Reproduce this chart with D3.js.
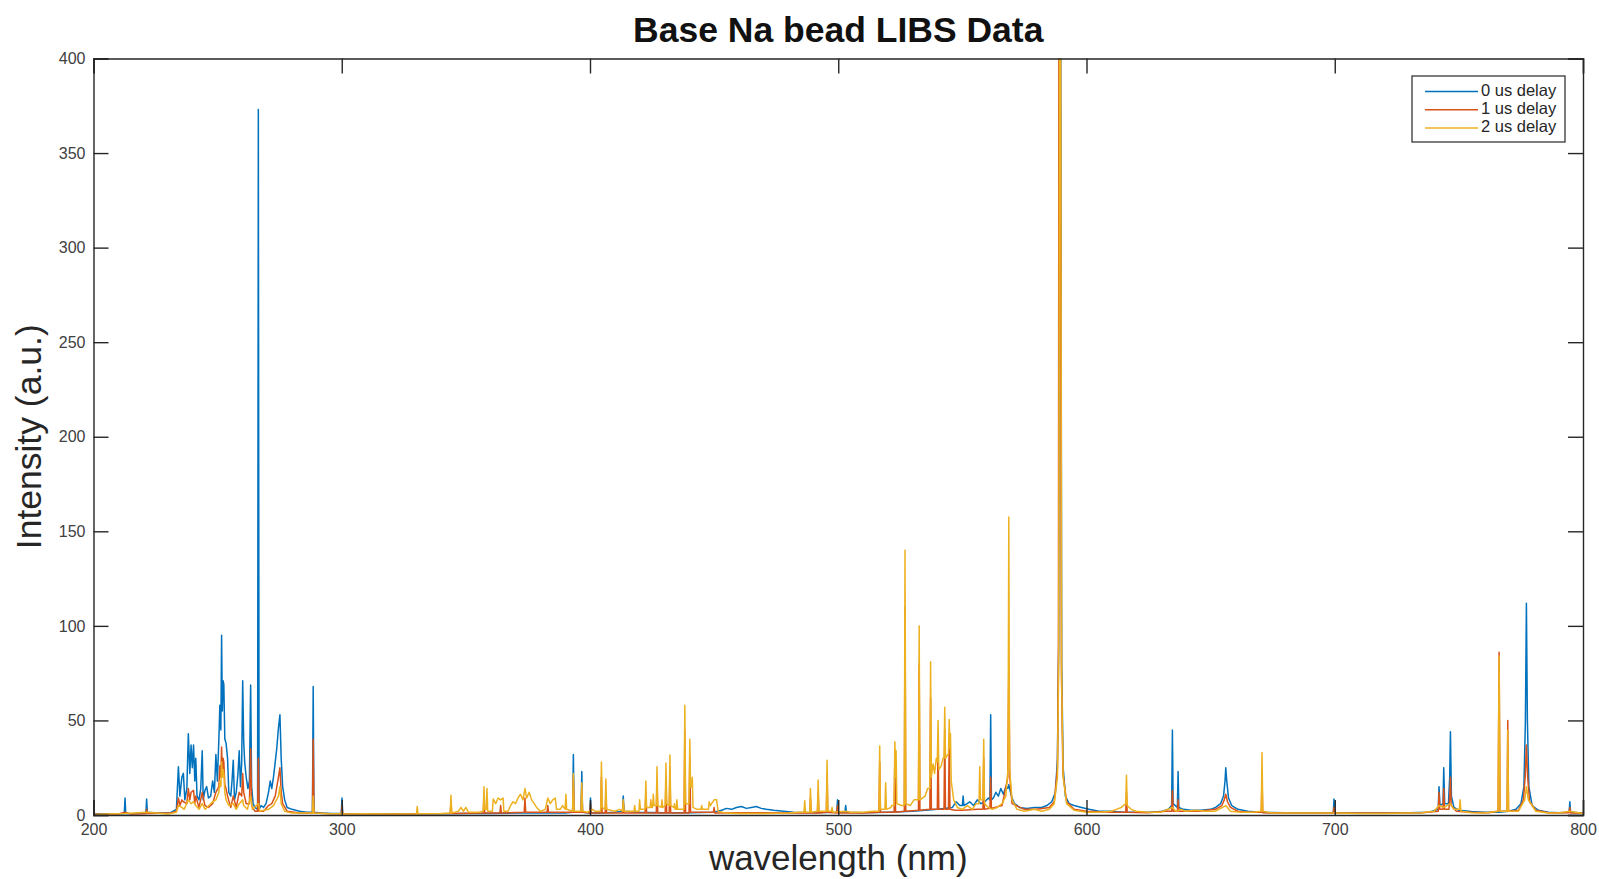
<!DOCTYPE html>
<html>
<head>
<meta charset="utf-8">
<script src="https://cdn.jsdelivr.net/npm/d3@7"></script>
<style>
  body { margin: 0; background: #fff; }
  text { font-family: "Liberation Sans", Arial, Helvetica, sans-serif; }
</style>
</head>
<body>
<div id="chart"></div>
<script>
// series labels and colours (matlab defaults)
var seriesNames = ["0 us delay", "1 us delay", "2 us delay"];
var seriesColors = ["#0072BD", "#D95319", "#EDB120"];

var xTicks = [200, 300, 400, 500, 600, 700, 800];
var yTicks = [0, 50, 100, 150, 200, 250, 300, 350, 400];

// [wavelength nm, intensity]
var delay0 = [[200,0.6],[205,0.5],[212.4,0.6],[212.7,9],[213.0,0.7],[218,0.8],[221.1,1],[221.4,8.5],[221.7,1.5],[226,1],[231,1.2],
  [233.4,3],[234.2,25.5],[234.8,10],[235.6,20],[236.2,22],[236.8,8],[237.6,14],[238.2,43],[238.8,22],[239.3,37],[239.8,25],
  [240.3,37],[240.8,18],[241.2,30],[241.7,10],[242.5,8],[243.2,14],[243.8,34],[244.2,8],[244.9,13],[245.6,15],[246.3,9],
  [247.2,10],[248.0,18],[248.7,12],[249.3,32],[249.9,18],[250.5,40],[250.9,58],[251.3,45],[251.6,95],[251.9,55],[252.2,71],
  [252.5,69],[252.9,40],[253.4,38],[254.0,30],[254.5,12],[255.3,10],[255.8,18],[256.3,29],[256.8,8],[257.5,12],[258.2,22],
  [258.7,34],[259.2,15],[259.7,28],[260.1,71],[260.5,39],[260.9,28],[261.5,20],[262.2,14],[262.8,18],[263.3,68.7],[263.7,15],
  [264.3,6],[265.0,4],[266.1,3],[266.4,373],[266.7,3],[267.5,5],[268.5,4],[269.5,6],[270.5,12],[271.2,18],[271.8,14],
  [272.5,20],[273.2,28],[273.8,35],[274.5,46],[275.1,53],[275.6,30],[276.2,15],[277.0,8],[278.0,4],[280,3],[283,2],[286,1.5],
  [288.2,1.5],[288.5,68],[288.8,1.5],[292,1],[296,0.8],[299.8,0.8],[300.1,9],[300.4,0.8],[310,0.6],[320,0.6],[330,0.6],
  [340,0.6],[350,0.8],[360,0.8],[370,1],[380,1],[390,1],[393.0,1.5],[393.3,32],[393.6,1.5],[396.4,1.5],[396.7,23],[397.0,1.5],
  [399.9,1],[400.2,9],[400.5,1],[405,1],[410,1.5],[413.1,2],[413.4,10],[413.7,2],[420,1.5],[430,1.2],[440,1.2],[450,1.5],
  [453,2.5],[455,3.5],[457,3],[459,4],[461,4.5],[463,3.5],[465,4],[467,4.5],[469,3.5],[471,3],[474,2.5],[478,2],[482,1.5],
  [490,1.2],[499.4,1.5],[499.7,8],[500.0,1.5],[502.7,1.5],[503,5],[503.3,1.5],[510,1.2],[520,1.5],[530,2],[540,3],[546,4],
  [547.5,7],[549,5],[550,5],[550.3,10],[550.6,5],[553,7],[554.5,5],[556,8],[557.5,6],[559,7],[560.5,9],[561.1,8],[561.4,53],
  [561.7,8],[562.5,9],[563.5,12],[564.5,10],[565.5,14],[566.5,11],[567.5,15],[568.3,14],[568.7,16],[569.2,13],[570,9],[571,6],
  [573,4],[576,3.5],[579,4],[582,4],[584,5],[586,7],[587.5,12],[588.3,30],[588.8,90],[589.1,430],[589.6,430],[590.0,80],
  [590.6,25],[591.5,10],[593,6],[595,5],[598,4],[601,3],[605,2],[610,2],[615,1.5],[620,1.5],[625,1.5],[630,1.8],[633,3],
  [634.3,5],[634.6,45],[634.9,6],[636.6,4],[636.9,23],[637.2,4],[639,3],[642,2.5],[646,2.5],[650,3],[652,4],[654,6],
  [655.2,10],[655.8,18],[656.1,25],[656.5,18],[657.2,9],[658.5,5],[661,3],[665,2],[670,1.5],[680,1.2],[690,1.2],[699.4,1.2],
  [699.7,8.5],[700.0,1.2],[710,1],[720,1],[730,1.2],[738,1.5],[741.7,3],[742.0,15],[742.4,5],[743.6,6],[743.9,25],[744.3,6],
  [745.8,6],[746.3,20],[746.6,44],[747.0,10],[748,4],[750,2.5],[755,1.8],[760,1.5],[766,1.5],[770,2],[773,3],[775,6],
  [776.2,15],[776.8,50],[777.2,112],[777.6,50],[778.2,15],[779.5,5],[782,2.5],[786,1.5],[790,1.2],[794.4,1.5],[794.7,7],
  [795.0,1.5],[800,1]];

var delay1 = [[200,0.4],[210,0.5],[212.7,1.5],[215,0.5],[221.1,0.6],[221.4,3],[221.7,0.8],[231,1],[233.4,2],[234.2,9],
  [234.8,5],[235.6,8],[236.2,7],[237.6,6],[238.2,14],[238.8,8],[239.3,12],[240.3,13],[240.8,6],[241.2,10],[242.5,4],[243.8,12],
  [244.9,5],[246.3,4],[248.0,6],[249.3,12],[250.5,15],[250.9,26],[251.3,20],[251.6,36],[251.9,22],[252.2,30],[252.5,28],
  [252.9,16],[253.4,14],[254.0,10],[255.3,4],[256.3,10],[257.5,4],[258.7,12],[259.7,10],[260.1,22],[260.5,12],[261.5,6],
  [262.8,6],[263.3,35],[263.7,5],[265.0,2],[266.1,2],[266.4,30],[266.7,2],[268.5,2],[270.5,5],[271.8,6],[273.2,10],[274.5,20],
  [275.1,25],[275.6,12],[276.2,6],[278,2],[283,1],[288.2,1],[288.5,40],[288.8,1],[295,0.6],[299.8,0.6],[300.1,5],[300.4,0.6],
  [320,0.5],[343.7,0.8],[344,7],[344.3,0.8],[357.0,1],[357.3,10],[357.6,1],[363.7,1],[364,5],[364.3,1],[373.5,1.5],[373.8,9],
  [374.1,1.5],[382.7,1.5],[383,5],[383.3,1.5],[393.0,1.5],[393.3,20],[393.6,1.5],[396.4,1.5],[396.7,14],[397.0,1.5],[399.9,1],
  [400.2,6],[400.5,1],[404.3,1],[404.6,20],[404.9,1],[406.1,1],[406.4,12],[406.7,1],[413.1,1],[413.4,7],[413.7,1],[422.2,1],
  [422.5,12],[422.8,1],[426.7,1],[427,18],[427.3,1],[430.3,1],[430.6,20],[430.9,1],[431.9,1],[432.2,24],[432.5,1],[437.9,1],
  [438.2,45],[438.5,1],[439.9,1],[440.2,30],[440.5,1.5],[449.7,1.5],[450,4],[450.3,1],[460,1.2],[470,1.2],[480,1],[488.5,1],
  [488.8,9],[489.1,1],[491.6,1],[491.9,12],[492.2,1],[495.2,1.5],[495.5,22],[495.8,1.5],[499.4,1],[499.7,5],[500,1],[510,1],
  [516.4,1.5],[516.7,28],[517,1.5],[522.5,1.5],[522.8,30],[523.1,1.5],[526.6,2],[526.9,110],[527.2,2],[532.3,2.5],[532.6,80],
  [532.9,2.5],[536.9,3],[537.2,62],[537.5,3],[539.9,3],[540.2,38],[540.5,3],[542.6,3],[542.9,45],[543.2,3],[544.4,3],
  [544.7,40],[545,3],[547,2.5],[550,2.5],[556,3],[558.3,3],[558.6,30],[558.9,3],[561.1,3.5],[561.4,20],[561.7,3.5],[566,5],
  [568.3,20],[568.7,80],[569.1,20],[570,6],[575,3],[580,3],[585,4],[587,7],[588.3,25],[588.7,90],[588.9,460],[589.4,460],
  [589.9,75],[590.5,22],[592,7],[595,3],[600,2],[610,1.5],[615.8,1.5],[616.1,12],[616.4,1.5],[625,1.2],[632,2],[634.3,2],
  [634.6,13],[634.9,2],[636.6,2],[636.9,8],[637.2,2],[645,2],[652,3],[654.5,5],[655.5,8],[656.1,11],[656.8,7],[658,4],[661,2],
  [665,1.5],[670.4,1.5],[670.7,20],[671,1.2],[680,1],[699.4,1],[699.7,4],[700,1],[720,1],[735,1.2],[741.7,2],[742,12],
  [742.3,3],[743.6,3],[743.9,14],[744.2,3],[746.0,3],[746.3,10],[746.6,20],[746.9,5],[749,2],[755,1.5],[762,1.2],[765.8,2],
  [766.2,86],[766.6,2],[769.4,2],[769.7,50],[770,2],[774,2.5],[776,8],[776.7,20],[777.2,37],[777.7,20],[778.5,7],[781,2.5],
  [786,1.2],[794.4,1.2],[794.7,4],[795,1],[800,1]];

var delay2 = [[200,0.3],[212.7,0.8],[221.4,1.5],[230,0.5],[233.4,1.5],[234.2,5],[235.6,4],[236.5,3],[238.2,8],[239.3,6],
  [240.3,7],[241.2,5],[242.5,3],[243.8,6],[245,3],[246.5,5],[248,7],[249.3,8],[250.5,12],[250.9,18],[251.3,15],[251.6,28],
  [251.9,20],[252.2,24],[252.5,22],[252.9,12],[253.4,8],[254.5,5],[256.3,6],[257.5,3],[258.7,6],[260.1,8],[260.5,5],[262,3],
  [263.3,10],[264,3],[266.4,6],[267,2],[270.5,3],[272.5,5],[274.5,10],[275.1,15],[275.6,6],[277,2],[280,1],[288.2,1],
  [288.5,10],[288.8,1],[295,0.6],[299.8,0.6],[300.1,2],[300.4,0.5],[310,0.6],[320,0.5],[330.1,0.6],[330.4,4.5],[330.7,0.6],
  [340,0.8],[343.7,1],[344,10.5],[344.3,1],[347,2],[348,4],[349,2],[350,4],[351,1.5],[355,1.5],[357.0,2],[357.3,15],[357.6,3],
  [358.2,3],[358.5,14],[358.8,2],[360.7,2],[361,8.5],[362,6],[363,9],[364,8],[365,9],[365.3,2],[367,2],[368,5],[369,7],[370,6],
  [371,9],[372,11],[373,8],[373.8,14],[374.5,9],[375.5,12],[376.5,8],[377.5,6],[378.5,4],[380,2],[382,3],[383,9],[384,6],
  [385,8],[386,9],[386.5,3],[388,3],[389,5],[390.0,3],[390.3,11],[390.6,3],[393.0,2],[393.3,22],[393.6,2],[396.4,2],[396.7,17],
  [397.0,2],[399,1.5],[401,3],[402,2],[404.3,2],[404.6,28],[404.9,4],[406.1,3],[406.4,19],[406.7,3],[410,2],[412,3],[413.1,2],
  [413.4,8],[413.7,2],[416,2],[417.7,2],[418,5],[418.3,2],[419.7,2],[420,8],[420.3,3],[422.2,3],[422.5,18],[422.8,4],[424.2,4],
  [424.5,8],[424.8,4],[425.2,4],[425.5,11],[425.8,5],[426.7,5],[427,25.5],[427.3,5],[428.7,4],[429,8],[429.3,4],[430.3,5],
  [430.6,27.5],[430.9,6],[431.9,5],[432.2,31.7],[432.5,5],[433.8,4],[434,6],[434.3,3],[434.7,3],[435,8],[435.3,3],[437.9,3],
  [438.2,58],[438.5,6],[439.9,6],[440.2,40],[440.5,15],[440.9,15],[441.2,20],[441.5,4],[443,3],[444.7,3],[445,5],[445.3,3],
  [447.7,3],[448,7],[448.5,5],[449,6],[450,8],[451,8],[451.6,2],[455,1],[460,0.8],[470,0.8],[480,1],[484,1.5],[486.2,1.5],
  [486.5,7.5],[486.8,1.5],[488.5,1.5],[488.8,14],[489.1,1.5],[491.6,2],[491.9,18.5],[492.2,2],[495.2,2],[495.5,29],[495.8,2],
  [497.2,2],[497.5,4],[497.8,1.5],[503,2],[505,1.5],[510,1.5],[514,2],[516.4,2],[516.7,36.5],[517.0,3],[518.8,3],[519.1,17],
  [519.4,3],[521.2,4],[521.5,5],[522.5,5],[522.8,38.7],[523.1,20],[523.3,34],[523.6,6],[525.5,5],[526.6,5],[526.9,140],
  [527.2,6],[529,5],[530.5,8],[532.3,8],[532.6,100],[532.9,8],[535,10],[536,14],[536.9,14],[537.2,81],[537.5,20],[538.2,27],
  [538.8,22],[539.5,30],[539.9,28],[540.2,50],[540.5,24],[541.5,26],[542.2,30],[542.6,30],[542.9,57],[543.2,30],[544.1,32],
  [544.4,32],[544.7,50.5],[545.0,35],[545.2,43],[545.5,18],[546.5,8],[548,4],[550,3],[552,5],[554,3],[555.5,6],[556.7,6],
  [557,25.5],[557.3,8],[558.3,8],[558.6,40],[558.9,6],[560.5,4],[562,3],[564,4],[566,6],[567.5,10],[568.4,25],[568.7,157.6],
  [569.0,25],[570,8],[572,3],[575,2],[579,3],[582,2],[585,3],[587,6],[588.3,20],[588.8,80],[589.2,480],[589.5,480],[590.0,70],
  [590.6,20],[592,6],[595,2.5],[600,1.5],[605,1.5],[610,2],[612,3],[614,4],[615.8,6],[616.1,21],[616.4,5],[618,3],[620,2],
  [625,1.5],[630,1.5],[634.6,4],[636,2],[638,3],[640,2],[644,2.5],[648,2],[652,2],[656.1,5],[658,2],[662,1.5],[667,1.5],
  [670.4,2],[670.7,33],[671.0,2],[675,1],[680,1],[690,1],[700,1],[710,0.8],[720,0.8],[730,1],[735,1.2],[740,2],[742,5],
  [744,4],[746.6,6],[748,3],[750.2,3],[750.5,8],[750.8,2],[755,1.2],[760,1],[765.8,2],[766.2,84],[766.6,2],[769.4,2],
  [769.7,45],[770.0,2],[774,2],[776.5,8],[777.2,15],[778,8],[781,2],[786,1],[790,1],[794.7,2],[800,0.8]];

var allSeries = [delay0, delay1, delay2];

function drawChart() {
  var svgWidth = 1599;
  var svgHeight = 879;

  var margin = { top: 58.5, right: 16, bottom: 64, left: 93.5 };
  var width = svgWidth - margin.left - margin.right;
  var height = svgHeight - margin.top - margin.bottom;

  var svg = d3.select("#chart")
    .append("svg")
    .attr("width", svgWidth)
    .attr("height", svgHeight);

  var chartGroup = svg.append("g")
    .attr("transform", `translate(${margin.left}, ${margin.top})`);

  // scales
  var xScale = d3.scaleLinear().domain([200, 800]).range([0, width]);
  var yScale = d3.scaleLinear().domain([0, 400]).range([height, 0]);

  // clip so the Na line gets cut at 400
  svg.append("defs").append("clipPath")
    .attr("id", "plotClip")
    .append("rect")
    .attr("width", width)
    .attr("height", height);

  var line = d3.line()
    .x(d => xScale(d[0]))
    .y(d => yScale(d[1]));

  var linesGroup = chartGroup.append("g").attr("clip-path", "url(#plotClip)");
  allSeries.forEach(function(data, i) {
    linesGroup.append("path")
      .datum(data)
      .attr("fill", "none")
      .attr("stroke", seriesColors[i])
      .attr("stroke-width", 1.5)
      .attr("stroke-linejoin", "round")
      .attr("d", line);
  });

  // axes, matlab style ticks pointing in
  var axisColor = "#262626";
  var tickLen = 15;

  var xAxis = d3.axisBottom(xScale).tickValues(xTicks).tickSize(-tickLen).tickPadding(9);
  var yAxis = d3.axisLeft(yScale).tickValues(yTicks).tickSize(-tickLen).tickPadding(8);
  var xAxisTop = d3.axisTop(xScale).tickValues(xTicks).tickSize(-tickLen).tickFormat("");
  var yAxisRight = d3.axisRight(yScale).tickValues(yTicks).tickSize(-tickLen).tickFormat("");

  var gx = chartGroup.append("g").attr("transform", `translate(0, ${height})`).call(xAxis);
  var gy = chartGroup.append("g").call(yAxis);
  var gxt = chartGroup.append("g").call(xAxisTop);
  var gyr = chartGroup.append("g").attr("transform", `translate(${width}, 0)`).call(yAxisRight);

  [gx, gy, gxt, gyr].forEach(function(g) {
    g.select(".domain").attr("stroke", axisColor).attr("stroke-width", 1.4);
    g.selectAll(".tick line").attr("stroke", axisColor).attr("stroke-width", 1.4);
    g.selectAll(".tick text")
      .attr("fill", "#404040")
      .style("font-size", "16px");
  });

  // title and labels
  svg.append("text")
    .attr("x", margin.left + width / 2)
    .attr("y", 42)
    .attr("text-anchor", "middle")
    .style("font-size", "35.5px")
    .style("font-weight", "bold")
    .attr("fill", "#111")
    .text("Base Na bead LIBS Data");

  svg.append("text")
    .attr("x", margin.left + width / 2)
    .attr("y", 870)
    .attr("text-anchor", "middle")
    .style("font-size", "35px")
    .attr("fill", "#262626")
    .text("wavelength (nm)");

  svg.append("text")
    .attr("transform", "rotate(-90)")
    .attr("x", -(margin.top + height / 2))
    .attr("y", 41)
    .attr("text-anchor", "middle")
    .style("font-size", "35.5px")
    .attr("fill", "#262626")
    .text("Intensity (a.u.)");

  // legend
  var legend = svg.append("g");
  legend.append("rect")
    .attr("x", 1412)
    .attr("y", 76)
    .attr("width", 153)
    .attr("height", 66)
    .attr("fill", "#fff")
    .attr("stroke", axisColor)
    .attr("stroke-width", 1.2);

  seriesNames.forEach(function(name, i) {
    var ly = 91.5 + i * 18.2;
    legend.append("line")
      .attr("x1", 1425).attr("x2", 1478)
      .attr("y1", ly).attr("y2", ly)
      .attr("stroke", seriesColors[i])
      .attr("stroke-width", 1.5);
    legend.append("text")
      .attr("x", 1481)
      .attr("y", ly + 4)
      .style("font-size", "16.5px")
      .attr("fill", "#262626")
      .text(name);
  });
}

drawChart();
</script>
</body>
</html>
